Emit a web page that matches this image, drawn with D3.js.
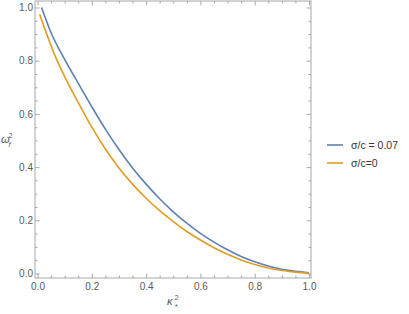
<!DOCTYPE html>
<html>
<head>
<meta charset="utf-8">
<script src="https://cdn.jsdelivr.net/npm/d3@7"></script>
<style>
  body { margin: 0; background: #fff; }
  text { font-family: "Liberation Sans", Arial, sans-serif; }
</style>
</head>
<body>
<div id="chart"></div>
<script>
// Values
const kappaBlue = [0.015, 0.05, 0.1, 0.15, 0.2, 0.25, 0.3, 0.35, 0.4, 0.45, 0.5, 0.55, 0.6, 0.65, 0.7, 0.75, 0.8, 0.85, 0.9, 0.95, 1.0];
const omegaBlue = [1.0, 0.905, 0.805, 0.715, 0.627, 0.543, 0.466, 0.397, 0.336, 0.281, 0.232, 0.189, 0.151, 0.118, 0.089, 0.064, 0.044, 0.028, 0.016, 0.008, 0.003];

const kappaOrange = [0.008, 0.034, 0.064, 0.1, 0.15, 0.2, 0.25, 0.3, 0.35, 0.4, 0.45, 0.5, 0.55, 0.6, 0.65, 0.7, 0.75, 0.8, 0.85, 0.9, 0.95, 1.0];
const omegaOrange = [0.975, 0.9, 0.82, 0.74, 0.643, 0.55, 0.468, 0.397, 0.336, 0.283, 0.236, 0.195, 0.158, 0.126, 0.097, 0.072, 0.051, 0.034, 0.021, 0.011, 0.005, 0.001];

const majorTicks = [0, 0.2, 0.4, 0.6, 0.8, 1.0];
const minorTicks = d3.range(0, 21).map(i => i / 20).filter(v => Math.round(v * 20) % 4 !== 0);

const seriesNames = ["σ/c = 0.07", "σ/c=0"];
const seriesColors = ["#5e81b5", "#e19c24"];

const width = 409, height = 314;
const frame = { left: 35, right: 311, top: 1, bottom: 278 };

const svg = d3.select("#chart").append("svg")
    .attr("width", width)
    .attr("height", height);

const x = d3.scaleLinear().domain([0, 1]).range([37.5, 309]);
const y = d3.scaleLinear().domain([0, 1]).range([273.5, 7.5]);

const fmt = d3.format(".1f");
const tickColor = "#a8a8a8";
const labelColor = "#5a5a5a";

function styleAxis(g) {
  g.select(".domain").remove();
  g.selectAll("line").attr("stroke", tickColor);
  g.selectAll("text").attr("fill", labelColor).style("font-size", "10px");
}

// frame
svg.append("rect")
    .attr("x", frame.left)
    .attr("y", frame.top)
    .attr("width", frame.right - frame.left)
    .attr("height", frame.bottom - frame.top)
    .attr("fill", "none")
    .attr("stroke", "#bcbcbc")
    .attr("stroke-width", 1.3);

// bottom axis
svg.append("g")
    .attr("transform", `translate(0,${frame.bottom})`)
    .call(d3.axisBottom(x).tickValues(majorTicks).tickSize(-4.5).tickPadding(5).tickFormat(fmt))
    .call(styleAxis);
svg.append("g")
    .attr("transform", `translate(0,${frame.bottom})`)
    .call(d3.axisBottom(x).tickValues(minorTicks).tickSize(-2.5).tickFormat(""))
    .call(styleAxis);

// top axis
svg.append("g")
    .attr("transform", `translate(0,${frame.top})`)
    .call(d3.axisTop(x).tickValues(majorTicks).tickSize(-4.5).tickFormat(""))
    .call(styleAxis);
svg.append("g")
    .attr("transform", `translate(0,${frame.top})`)
    .call(d3.axisTop(x).tickValues(minorTicks).tickSize(-2.5).tickFormat(""))
    .call(styleAxis);

// left axis
svg.append("g")
    .attr("transform", `translate(${frame.left},0)`)
    .call(d3.axisLeft(y).tickValues(majorTicks).tickSize(-4.5).tickPadding(2).tickFormat(fmt))
    .call(styleAxis);
svg.append("g")
    .attr("transform", `translate(${frame.left},0)`)
    .call(d3.axisLeft(y).tickValues(minorTicks).tickSize(-2.5).tickFormat(""))
    .call(styleAxis);

// right axis
svg.append("g")
    .attr("transform", `translate(${frame.right},0)`)
    .call(d3.axisRight(y).tickValues(majorTicks).tickSize(-4.5).tickFormat(""))
    .call(styleAxis);
svg.append("g")
    .attr("transform", `translate(${frame.right},0)`)
    .call(d3.axisRight(y).tickValues(minorTicks).tickSize(-2.5).tickFormat(""))
    .call(styleAxis);

// curves
const line = d3.line()
    .x(d => x(d[0]))
    .y(d => y(d[1]))
    .curve(d3.curveMonotoneX);

const series = [
  d3.zip(kappaBlue, omegaBlue),
  d3.zip(kappaOrange, omegaOrange)
];

svg.selectAll(".curve")
    .data(series)
    .join("path")
    .attr("class", "curve")
    .attr("d", line)
    .attr("fill", "none")
    .attr("stroke", (d, i) => seriesColors[i])
    .attr("stroke-width", 1.6);

// axis labels (symbol + superscript + subscript as separate texts)
function mathLabel(x0, y0, base, sup, sub) {
  const g = svg.append("g").attr("fill", labelColor);
  g.append("text").attr("x", x0).attr("y", y0)
      .style("font-size", "11px").style("font-style", "italic").text(base);
  g.append("text").attr("x", x0 + 7.5).attr("y", y0 - 5)
      .style("font-size", "7.5px").text(sup);
  g.append("text").attr("x", x0 + 7.5).attr("y", y0 + 3.5)
      .style("font-size", "7.5px").style("font-style", "italic").text(sub);
}
mathLabel(1, 143, "ω", "2", "f");
mathLabel(167, 305, "κ", "2", "*");

// legend
const legend = svg.selectAll(".legend")
    .data(seriesNames)
    .join("g")
    .attr("class", "legend")
    .attr("transform", (d, i) => `translate(327,${145 + i * 18})`);

legend.append("line")
    .attr("x1", 0)
    .attr("x2", 16)
    .attr("stroke", (d, i) => seriesColors[i])
    .attr("stroke-width", 1.6);

legend.append("text")
    .attr("x", 24)
    .attr("dy", "0.35em")
    .attr("fill", "#333")
    .style("font-size", "10.5px")
    .text(d => d);
</script>
</body>
</html>
